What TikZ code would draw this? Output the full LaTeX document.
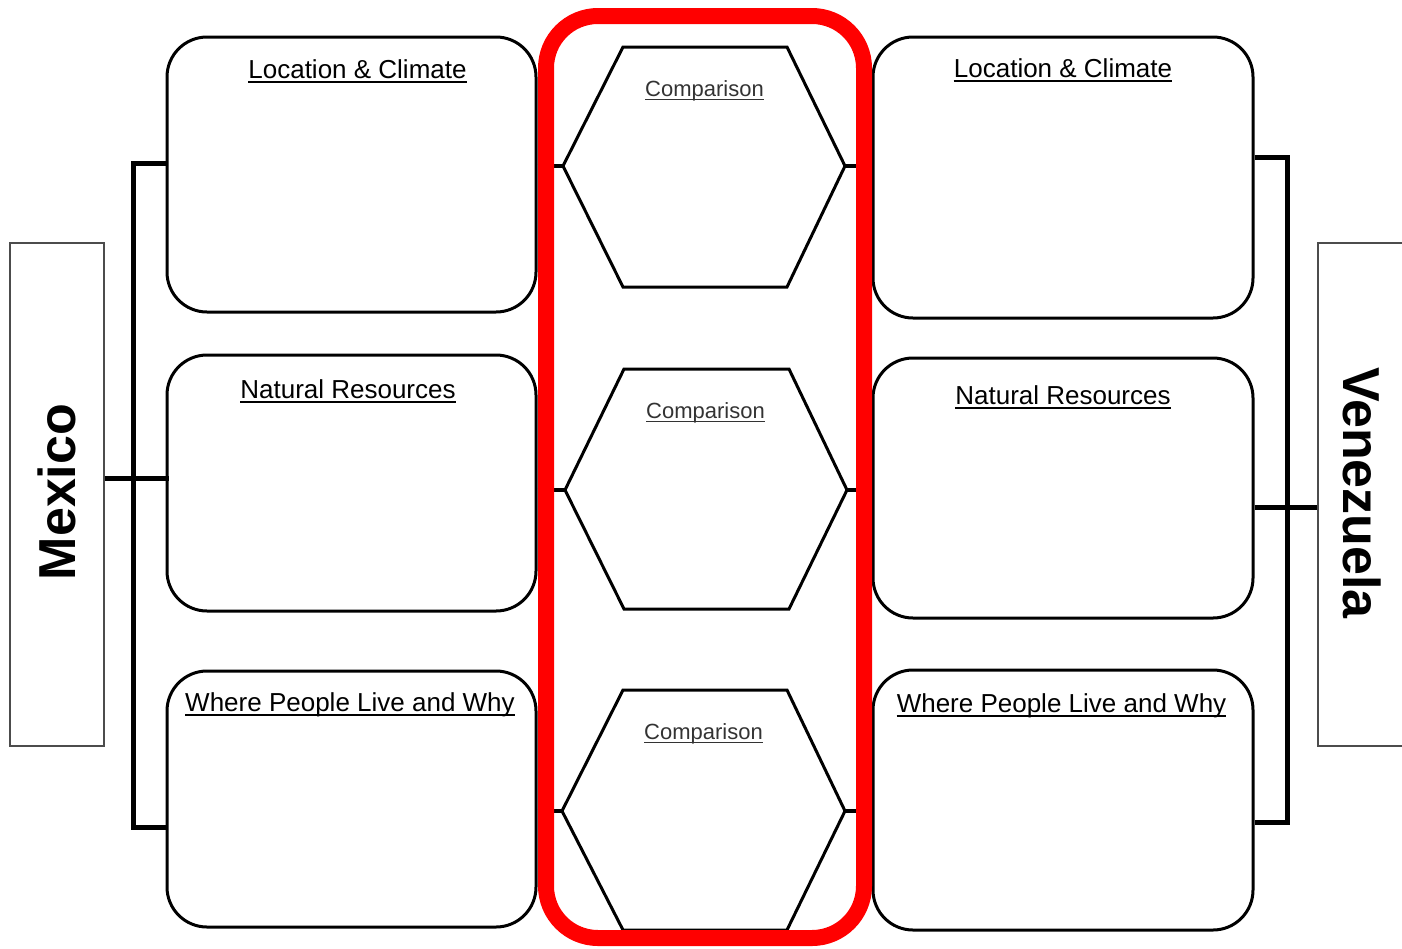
\documentclass[tikz,border=0pt]{standalone}
\usepackage{fontspec}
\setmainfont{Liberation Sans}
\begin{document}
\begin{tikzpicture}[x=1pt,y=-1pt,
  box/.style={draw=black,line width=3pt,rounded corners=40pt,inner sep=0pt},
  hexa/.style={draw=black,line width=3pt,line join=miter},
  conn/.style={draw=black,line width=4pt},
  brk/.style={draw=black,line width=5pt},
  lbl/.style={draw=black!70,line width=1.2pt,inner sep=0pt},
  title/.style={inner sep=0pt,anchor=base,font=\fontsize{26}{30}\selectfont},
  comp/.style={inner sep=0pt,anchor=base,text=black!80,font=\fontsize{22}{26}\selectfont},
  ul/.style={draw=black,line width=2pt},
  ulc/.style={draw=black!80,line width=1.5pt},
  country/.style={inner sep=0pt,font=\fontsize{52}{60}\selectfont\bfseries}
]
\useasboundingbox (0,0) rectangle (1402,948);
% label boxes
\node[lbl,minimum width=94pt,minimum height=503pt] (mexbox) at (57,494.5) {};
\node[lbl,minimum width=94pt,minimum height=503pt] (venbox) at (1365,494.5) {};
\node[country,rotate=90] (mex) at (57,492) {Mexico};
\node[country,rotate=-90] (ven) at (1362,493) {Venezuela};
% boxes
\node[box,minimum width=369pt,minimum height=275pt] (L1) at (351.5,174.5) {};
\node[box,minimum width=369pt,minimum height=256pt] (L2) at (351.5,483) {};
\node[box,minimum width=369pt,minimum height=256pt] (L3) at (351.5,799) {};
\node[box,minimum width=380pt,minimum height=281pt] (R1) at (1063,177.5) {};
\node[box,minimum width=380pt,minimum height=260pt] (R2) at (1063,488) {};
\node[box,minimum width=380pt,minimum height=260pt] (R3) at (1063,800) {};
% titles
\node[title] (tL1) at (357.5,78) {Location \& Climate};
\node[title] (tL2) at (348,398) {Natural Resources};
\node[title] (tL3) at (350,711) {Where People Live and Why};
\node[title] (tR1) at (1063,77) {Location \& Climate};
\node[title] (tR2) at (1063,404) {Natural Resources};
\node[title] (tR3) at (1061.5,712) {Where People Live and Why};
\foreach \t in {tL1,tL2,tL3,tR1,tR2,tR3}
  \draw[ul] ([yshift=-4pt]\t.base west) -- ([yshift=-4pt]\t.base east);
% hexagons
\coordinate (h1l) at (563,166); \coordinate (h1r) at (845,166);
\coordinate (h2l) at (565,490); \coordinate (h2r) at (847,490);
\coordinate (h3l) at (562,811); \coordinate (h3r) at (845,811);
\draw[hexa] (h1l) -- (623,47) -- (787,47) -- (h1r) -- (787,287) -- (623,287) -- cycle;
\draw[hexa] (h2l) -- (624,369) -- (789,369) -- (h2r) -- (789,609) -- (624,609) -- cycle;
\draw[hexa] (h3l) -- (623,690) -- (787,690) -- (h3r) -- (787,930) -- (623,930) -- cycle;
\node[comp] (c1) at (704.5,96) {Comparison};
\node[comp] (c2) at (705.5,418) {Comparison};
\node[comp] (c3) at (703.5,739) {Comparison};
\foreach \t in {c1,c2,c3}
  \draw[ulc] ([yshift=-3.5pt]\t.base west) -- ([yshift=-3.5pt]\t.base east);
% connectors box-hex
\draw[conn] (L1.east |- h1l) -- (h1l);
\draw[conn] (L2.east |- h2l) -- (h2l);
\draw[conn] (L3.east |- h3l) -- (h3l);
\draw[conn] (h1r) -- (R1.west |- h1r);
\draw[conn] (h2r) -- (R2.west |- h2r);
\draw[conn] (h3r) -- (R3.west |- h3r);
% brackets
\draw[brk] (L1.west |- 0,163) -- (133,163) -- (133,827) -- (L3.west |- 0,827);
\draw[brk] (mexbox.east |- 0,478) -- (169,478);
\draw[brk] (R1.east |- 0,157) -- (1287,157) -- (1287,822) -- (R3.east |- 0,822);
\draw[brk] (R2.east |- 0,507) -- (venbox.west |- 0,507);
% red highlight
\draw[red,line width=16pt,rounded corners=52pt] (546,16) rectangle (864,938);
\end{tikzpicture}
\end{document}
